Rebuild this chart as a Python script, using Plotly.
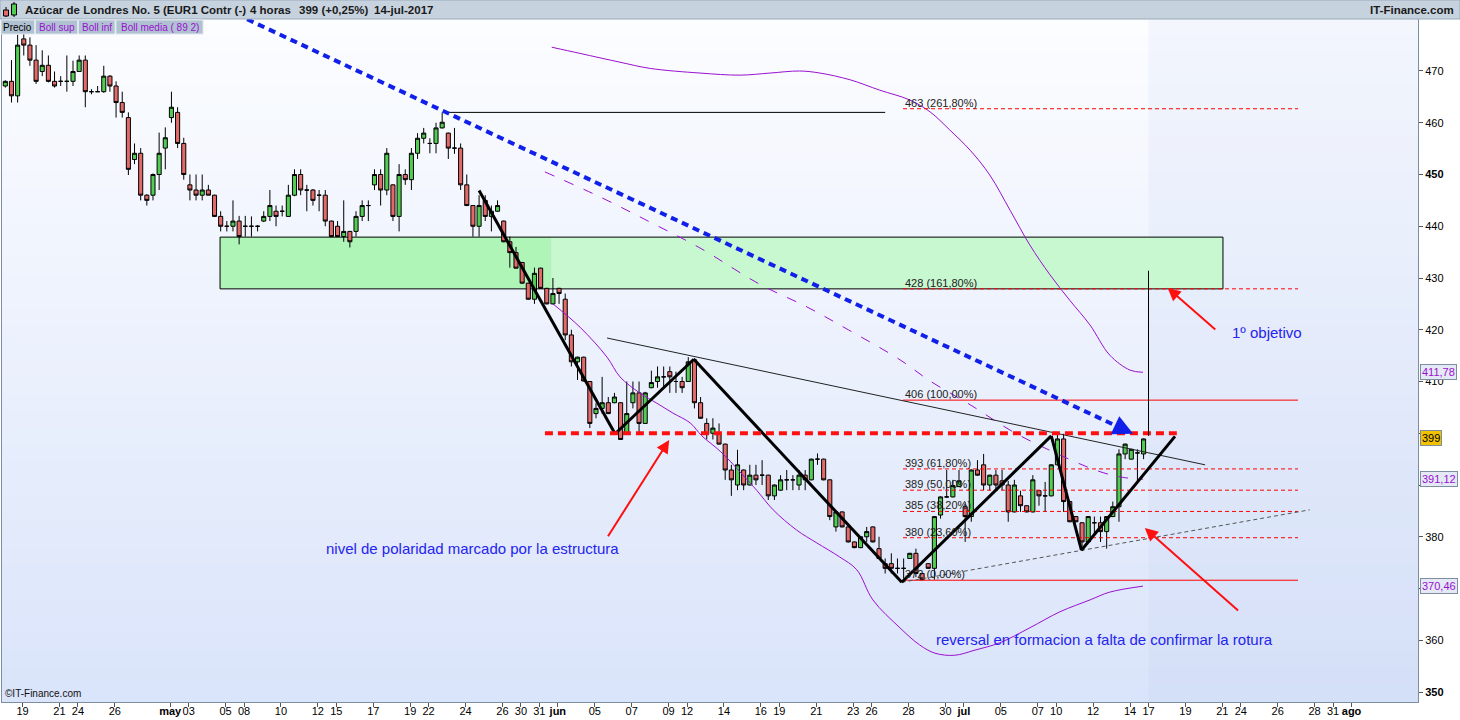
import plotly.graph_objects as go

# ---------------- data ----------------
bar_index = list(range(186))

opens = [467.1, 468.0, 465.2, 476.2, 475.0, 472.1, 469.9, 471.1, 468.0, 468.0,
         468.0, 468.0, 469.9, 472.1, 466.0, 466.0, 466.0, 469.0, 467.1, 463.9,
         461.0, 452.9, 454.1, 446.0, 446.0, 450.0, 455.1, 461.0, 462.0, 456.0,
         448.0, 447.0, 446.0, 447.0, 446.0, 441.9, 440.0, 440.0, 441.0, 440.0,
         440.0, 440.0, 441.0, 441.9, 442.9, 442.9, 441.9, 446.0, 450.0, 447.0,
         447.0, 446.0, 446.0, 441.0, 440.0, 438.0, 439.0, 439.0, 441.9, 444.0,
         448.0, 450.0, 447.0, 448.0, 441.9, 450.0, 449.0, 454.1, 457.0, 456.0,
         456.0, 459.0, 458.0, 455.1, 455.1, 448.0, 444.0, 440.0, 445.0, 441.9,
         442.9, 441.0, 437.0, 434.9, 433.0, 429.0, 425.9, 431.9, 428.0, 425.0,
         428.0, 425.9, 419.0, 413.8, 414.7, 410.0, 403.8, 404.8, 405.9, 405.9,
         405.9, 400.0, 405.9, 407.8, 401.9, 408.8, 410.0, 410.9, 411.9, 410.0,
         410.0, 410.0, 414.2, 405.9, 401.9, 400.0, 400.0, 397.9, 392.9, 390.0,
         392.9, 390.0, 391.9, 391.9, 391.9, 387.9, 389.0, 391.0, 391.0, 390.0,
         391.9, 391.0, 395.0, 395.0, 391.0, 381.9, 384.8, 381.9, 379.0, 377.9,
         380.0, 381.9, 377.7, 374.8, 374.8, 373.9, 373.9, 375.8, 376.8, 372.9,
         374.8, 373.9, 384.2, 387.7, 387.7, 389.7, 385.8, 383.9, 392.9, 393.9,
         390.0, 391.9, 390.8, 390.0, 384.8, 387.9, 386.0, 384.8, 388.9, 387.9,
         387.9, 393.9, 398.9, 386.8, 383.9, 382.7, 379.0, 382.7, 382.7, 381.0,
         383.9, 385.8, 396.0, 395.0, 396.2, 396.0]

highs = [468.2, 472.1, 477.0, 477.5, 476.5, 475.0, 474.0, 473.0, 469.9, 469.0,
         473.0, 472.0, 473.0, 473.0, 466.5, 467.1, 471.0, 469.2, 468.0, 466.0,
         462.0, 456.0, 455.1, 446.2, 450.2, 458.1, 459.1, 466.0, 463.0, 457.1,
         450.0, 450.0, 450.0, 448.0, 446.1, 442.9, 441.0, 445.0, 442.0, 442.0,
         441.9, 440.2, 442.9, 447.0, 444.0, 444.0, 448.0, 451.0, 451.0, 448.0,
         447.2, 447.0, 447.0, 441.1, 441.0, 445.0, 439.1, 442.9, 445.0, 445.0,
         451.0, 451.0, 455.1, 448.1, 452.0, 451.0, 455.1, 458.0, 459.0, 457.0,
         460.0, 462.0, 458.1, 459.0, 456.0, 450.0, 444.1, 446.0, 446.0, 444.0,
         445.0, 441.1, 438.0, 436.0, 433.1, 429.1, 432.0, 432.0, 428.1, 430.0,
         428.1, 427.0, 420.0, 414.8, 414.8, 410.1, 405.8, 410.9, 407.0, 407.8,
         406.0, 410.0, 410.0, 410.0, 408.0, 412.1, 412.9, 412.9, 412.9, 411.9,
         410.9, 414.7, 414.5, 407.0, 402.9, 402.9, 401.9, 398.0, 393.9, 396.8,
         393.0, 393.9, 393.9, 394.8, 392.0, 390.1, 391.9, 392.9, 391.9, 392.9,
         392.9, 395.1, 396.1, 395.1, 391.1, 384.9, 384.9, 382.0, 379.1, 380.1,
         381.9, 382.0, 380.0, 375.8, 376.8, 375.8, 375.8, 376.9, 377.7, 373.0,
         374.9, 384.0, 387.8, 392.9, 391.0, 392.9, 386.7, 393.0, 394.8, 396.0,
         392.0, 392.9, 392.9, 390.8, 391.0, 388.9, 386.1, 391.9, 389.0, 390.6,
         394.0, 399.9, 399.9, 386.9, 384.0, 382.8, 384.0, 383.9, 383.9, 384.0,
         386.8, 396.9, 398.0, 397.0, 396.9, 399.0]

lows = [466.8, 463.9, 463.9, 473.0, 471.0, 467.5, 469.0, 467.8, 466.8, 467.1,
        466.0, 467.1, 469.8, 463.0, 465.5, 466.0, 465.8, 466.0, 461.0, 461.0,
        449.9, 452.0, 445.0, 444.0, 445.0, 447.0, 451.0, 460.0, 455.1, 449.0,
        445.0, 445.0, 445.0, 446.0, 441.8, 439.0, 439.0, 439.0, 436.5, 438.0,
        438.0, 439.0, 440.8, 441.0, 440.0, 441.9, 441.8, 445.8, 446.0, 442.9,
        444.0, 442.9, 440.0, 437.9, 437.9, 437.0, 435.9, 438.0, 441.0, 441.0,
        447.0, 444.0, 446.0, 441.0, 439.0, 448.0, 447.0, 453.0, 456.0, 454.1,
        454.1, 458.9, 453.0, 454.0, 447.0, 443.9, 438.0, 438.0, 441.0, 439.0,
        442.8, 436.9, 432.0, 431.8, 428.9, 425.8, 425.0, 427.9, 424.9, 424.9,
        425.0, 418.0, 412.9, 410.3, 410.0, 401.0, 402.9, 403.8, 403.7, 405.8,
        398.7, 399.9, 404.8, 400.0, 401.8, 408.7, 408.8, 408.8, 407.8, 407.8,
        407.8, 409.9, 404.8, 402.8, 398.8, 398.8, 397.8, 391.0, 387.9, 389.0,
        389.0, 389.9, 390.0, 390.0, 387.1, 387.1, 388.9, 389.0, 389.0, 389.0,
        389.0, 390.9, 393.9, 390.9, 383.2, 381.0, 381.8, 378.9, 377.8, 377.8,
        379.0, 378.9, 375.7, 372.9, 372.9, 372.9, 371.9, 375.7, 372.2, 371.6,
        373.8, 371.7, 383.5, 387.5, 387.6, 389.6, 379.0, 382.9, 391.8, 389.0,
        389.0, 389.0, 389.0, 382.9, 384.7, 384.8, 384.7, 384.7, 386.0, 384.8,
        387.8, 393.8, 384.8, 382.8, 382.8, 378.0, 378.9, 380.7, 379.0, 377.7,
        383.8, 382.9, 395.0, 394.9, 390.6, 395.0]

closes = [468.0, 465.2, 475.0, 475.0, 472.1, 468.0, 471.1, 468.0, 467.1, 468.0,
          468.0, 469.9, 472.1, 466.0, 466.0, 466.0, 469.0, 467.1, 463.9, 462.0,
          451.0, 454.1, 446.0, 445.0, 450.0, 454.1, 457.1, 463.0, 456.0, 450.0,
          447.0, 446.0, 447.0, 446.0, 441.9, 440.0, 440.0, 441.0, 438.0, 440.0,
          440.0, 440.0, 441.9, 444.0, 441.9, 442.9, 446.0, 450.0, 447.0, 447.0,
          445.0, 446.0, 441.0, 438.0, 438.0, 439.0, 437.0, 441.9, 444.0, 444.0,
          450.0, 447.0, 454.1, 441.9, 450.0, 449.0, 454.1, 457.0, 458.0, 456.0,
          459.0, 460.1, 455.1, 455.1, 448.0, 444.0, 440.0, 444.0, 441.9, 442.9,
          444.0, 437.0, 434.9, 431.9, 429.0, 425.9, 430.9, 428.0, 425.0, 427.0,
          427.0, 419.0, 413.8, 414.7, 410.1, 401.9, 404.8, 405.9, 403.8, 407.0,
          398.8, 403.8, 407.8, 401.9, 407.8, 409.8, 410.9, 410.9, 410.9, 410.0,
          408.8, 413.8, 405.9, 402.9, 399.8, 401.0, 397.9, 392.9, 391.0, 393.9,
          390.0, 391.9, 391.0, 391.9, 387.9, 390.0, 391.0, 391.0, 391.0, 391.9,
          391.0, 395.0, 395.0, 391.0, 383.9, 384.8, 381.9, 379.0, 377.9, 380.0,
          381.0, 379.0, 375.8, 373.9, 373.9, 373.9, 373.9, 376.8, 372.9, 371.7,
          373.9, 383.9, 387.7, 387.7, 389.9, 390.8, 383.9, 392.9, 391.9, 390.0,
          391.9, 390.0, 390.0, 384.8, 390.0, 386.0, 384.8, 391.0, 387.9, 387.9,
          393.9, 398.9, 386.8, 382.9, 382.9, 379.0, 383.9, 382.7, 381.0, 383.9,
          385.8, 396.0, 397.9, 396.9, 396.2, 398.9]

# trading-day index of each labelled day (0 = 19 Apr 2017) and its label
tick_days = [0, 2, 3, 5, 8, 9, 11, 12, 14, 16, 17, 19, 21, 22, 24, 26, 27, 28, 29,
             31, 33, 35, 36, 38, 40, 41, 43, 45, 46, 48, 50, 51, 53, 55, 56, 58,
             60, 61, 63, 65, 66, 68, 70, 71, 72]
tick_labels = ["19", "21", "24", "26", "<b>may</b>", "03", "05", "08", "10", "12",
               "15", "17", "19", "22", "24", "26", "30", "31", "<b>jun</b>", "05",
               "07", "09", "12", "14", "16", "19", "21", "23", "26", "28", "30",
               "<b>jul</b>", "05", "07", "10", "12", "14", "17", "19", "21", "24",
               "26", "28", "31", "<b>ago</b>"]
bars_per_day = 3
day0_bar = 2.8

# price axis labels (those hidden behind the value boxes are left blank)
y_ticks = [350, 360, 370, 380, 390, 400, 410, 420, 430, 440, 450, 460, 470]
y_tick_labels = ["<b>350</b>", "360", "", "380", "", "", "410", "420", "430", "440",
                 "<b>450</b>", "460", "470"]

# Bollinger (89, 2)
boll_sup_x = [88.8, 93.4, 99.9, 104.8, 112.9, 119.4, 124.3, 129.1, 132.4, 137.3, 142.1,
              147.0, 150.3, 153.5, 156.8, 160.0, 163.3, 166.5, 169.8, 173.0, 176.3,
              179.5, 182.8, 184.9]
boll_sup_y = [474.6, 473.4, 471.7, 470.5, 469.6, 469.2, 469.6, 470.0, 469.6, 468.3, 466.3,
              464.4, 462.1, 458.6, 454.7, 449.9, 443.1, 436.4, 430.6, 425.7, 420.9,
              415.1, 412.2, 411.78]
boll_med_x = [87.7, 96.6, 104.8, 112.9, 122.6, 130.3, 137.0, 145.4, 150.3, 157.1, 163.6,
              170.3, 177.6, 181.5, 184.9]
boll_med_y = [450.5, 445.7, 440.8, 435.8, 428.8, 424.4, 420.0, 414.2, 410.1, 405.3, 400.4,
              396.4, 392.7, 391.5, 391.12]
boll_inf_x = [89.0, 93.4, 97.8, 99.9, 103.1, 105.9, 108.5, 111.3, 113.2, 116.3, 120.2,
              122.1, 124.8, 128.6, 131.9, 135.6, 138.4, 141.0, 145.4, 148.6, 151.1,
              154.3, 157.6, 161.6, 166.5, 171.4, 176.3, 179.5, 184.9]
boll_inf_y = [425.0, 420.5, 414.7, 410.9, 407.8, 405.8, 403.9, 402.0, 399.5, 396.4, 391.5,
              389.0, 385.2, 381.3, 378.8, 376.1, 373.6, 367.8, 362.4, 359.1, 357.5,
              357.1, 358.1, 359.5, 362.4, 365.5, 367.8, 369.3, 370.46]

last_price = 399
last_boll = {"sup": 411.78, "media": 391.12, "inf": 370.46}

# Fibonacci from the 372 low to the 406 high
fib_low, fib_high = 371.6, 406.4
fib_ratios = [0.0, 0.236, 0.382, 0.5, 0.618, 1.0, 1.618, 2.618]
fib_texts = ["372 (0,00%)", "380 (23,60%)", "385 (38,20%)", "389 (50,00%)",
             "393 (61,80%)", "406 (100,00%)", "428 (161,80%)", "463 (261,80%)"]
fib_bars = [145.9, 210.1]

# drawn objects (bar position, price)
zone_bars = [34.9, 88.8, 197.9]
zone_prices = [427.9, 437.9]
polarity_bars, polarity_price = [87.7, 190.4], 400.0
blue_trend_bars, blue_trend_prices = [39.3, 183.3], [480.0, 399.9]
resist_bars, resist_prices = [97.8, 195.0], [418.4, 393.9]
zigzag_bars = [77.0, 99.1, 111.9, 145.7, 170.0, 174.9, 190.1]
zigzag_prices = [446.9, 399.9, 414.3, 371.2, 399.5, 377.4, 399.4]
support_bars, support_prices = [145.7, 212.0], [371.2, 385.2]
high_line_bars, high_line_price = [71.7, 143.0], 462.0
target_bar, target_prices = 185.8, [399.5, 431.4]

# ---------------- figure ----------------
W, H = 1460, 720
ML, MR, MT, MB = 2, 42, 18, 18
PW, PH = W - ML - MR, H - MT - MB
FONT = "Liberation Sans, Arial, sans-serif"


def px_x(px):
    return (px - ML) / PW


def px_y(py):
    return (H - MB - py) / PH


fig = go.Figure()
shapes = []
annotations = []

# background gradient of the plot area
n_bands = 40
top_c, bot_c = (252, 253, 255), (218, 228, 250)
for i in range(n_bands):
    t = (i + 0.5) / n_bands
    c = tuple(round(top_c[k] + (bot_c[k] - top_c[k]) * t) for k in range(3))
    shapes.append(dict(type="rect", xref="paper", yref="paper", x0=0, x1=1,
                       y0=1 - (i + 1) / n_bands, y1=1 - i / n_bands + 0.001,
                       fillcolor="rgb(%d,%d,%d)" % c, line=dict(width=0), layer="below"))
# future area tint
shapes.append(dict(type="rect", xref="x", yref="paper", x0=bar_index[-1] + 0.8, x1=229.6,
                   y0=0, y1=1, fillcolor="rgba(170,190,240,0.10)", line=dict(width=0),
                   layer="below"))

# green zone
shapes.append(dict(type="rect", xref="x", yref="y", x0=zone_bars[0], x1=zone_bars[1],
                   y0=zone_prices[0], y1=zone_prices[1], fillcolor="#b0f5b8",
                   line=dict(width=0), layer="below"))
shapes.append(dict(type="rect", xref="x", yref="y", x0=zone_bars[1], x1=zone_bars[2],
                   y0=zone_prices[0], y1=zone_prices[1], fillcolor="#c8f8d0",
                   line=dict(width=0), layer="below"))
shapes.append(dict(type="rect", xref="x", yref="y", x0=zone_bars[0], x1=zone_bars[2],
                   y0=zone_prices[0], y1=zone_prices[1], fillcolor="rgba(0,0,0,0)",
                   line=dict(color="black", width=1), layer="below"))

# candles
fig.add_trace(go.Candlestick(
    x=bar_index, open=opens, high=highs, low=lows, close=closes,
    increasing=dict(fillcolor="#52cc52", line=dict(color="black", width=1)),
    decreasing=dict(fillcolor="#e46a6a", line=dict(color="black", width=1)),
    whiskerwidth=0, showlegend=False, hoverinfo="skip"))

purple = "#9a10d0"
fig.add_trace(go.Scatter(x=boll_sup_x, y=boll_sup_y, mode="lines", line_shape="spline",
                         line=dict(color=purple, width=1), showlegend=False, hoverinfo="skip"))
fig.add_trace(go.Scatter(x=boll_med_x, y=boll_med_y, mode="lines", line_shape="spline",
                         line=dict(color=purple, width=1, dash="10px,11px"),
                         showlegend=False, hoverinfo="skip"))
fig.add_trace(go.Scatter(x=boll_inf_x, y=boll_inf_y, mode="lines", line_shape="spline",
                         line=dict(color=purple, width=1), showlegend=False, hoverinfo="skip"))

# fibonacci lines + labels
fib_vals = [fib_low + r * (fib_high - fib_low) for r in fib_ratios]
for r, v, txt in zip(fib_ratios, fib_vals, fib_texts):
    solid = r in (0.0, 1.0)
    shapes.append(dict(type="line", xref="x", yref="y", x0=fib_bars[0], x1=fib_bars[1],
                       y0=v, y1=v,
                       line=dict(color="#ff0000", width=1,
                                 dash="solid" if solid else "4px,3px")))
    annotations.append(dict(x=fib_bars[0], y=v + 1.15, xref="x", yref="y", text=txt,
                            showarrow=False, xanchor="left", yanchor="middle",
                            font=dict(family=FONT, size=11, color="#222")))

# black high line
shapes.append(dict(type="line", xref="x", yref="y", x0=high_line_bars[0], x1=high_line_bars[1],
                   y0=high_line_price, y1=high_line_price, line=dict(color="black", width=1)))
# resistance thin line
shapes.append(dict(type="line", xref="x", yref="y", x0=resist_bars[0], x1=resist_bars[1],
                   y0=resist_prices[0], y1=resist_prices[1], line=dict(color="#222", width=1)))
# support dashed gray
shapes.append(dict(type="line", xref="x", yref="y", x0=support_bars[0], x1=support_bars[1],
                   y0=support_prices[0], y1=support_prices[1],
                   line=dict(color="#555", width=1, dash="4px,3px")))
# zigzag
for i in range(len(zigzag_bars) - 1):
    shapes.append(dict(type="line", xref="x", yref="y", x0=zigzag_bars[i], x1=zigzag_bars[i + 1],
                       y0=zigzag_prices[i], y1=zigzag_prices[i + 1],
                       line=dict(color="black", width=3)))
# polarity red dashed
shapes.append(dict(type="line", xref="x", yref="y", x0=polarity_bars[0], x1=polarity_bars[1],
                   y0=polarity_price, y1=polarity_price,
                   line=dict(color="#ff1010", width=4, dash="8px,5px")))
# blue dotted trend (arrow head added below)
slope = (blue_trend_prices[1] - blue_trend_prices[0]) / (blue_trend_bars[1] - blue_trend_bars[0])
tail_bar = blue_trend_bars[1] - 2.6
tail_price = blue_trend_prices[1] - slope * 2.6
shapes.append(dict(type="line", xref="x", yref="y", x0=blue_trend_bars[0], x1=tail_bar,
                   y0=blue_trend_prices[0], y1=tail_price,
                   line=dict(color="#1020e8", width=4, dash="7px,5px")))
annotations.append(dict(x=blue_trend_bars[1], y=blue_trend_prices[1], ax=tail_bar, ay=tail_price,
                        xref="x", yref="y", axref="x", ayref="y", text="", showarrow=True,
                        arrowhead=2, arrowsize=1.0, arrowwidth=4, arrowcolor="#1020e8",
                        standoff=0))
# target vertical line
shapes.append(dict(type="line", xref="x", yref="y", x0=target_bar, x1=target_bar,
                   y0=target_prices[0], y1=target_prices[1], line=dict(color="black", width=1)))

# red arrows (head, tail)
red_arrows = [((107.9, 398.7), (97.8, 379.8)),
              ((188.9, 428.1), (196.9, 419.8)),
              ((185.2, 381.7), (200.6, 365.5))]
for (hx, hy), (tx, ty) in red_arrows:
    annotations.append(dict(x=hx, y=hy, ax=tx, ay=ty, xref="x", yref="y", axref="x",
                            ayref="y", text="", showarrow=True, arrowhead=2, arrowsize=1.3,
                            arrowwidth=2, arrowcolor="#ff1010", standoff=0))

blue_txt = "#2424ee"
for txt, bx, py in [("1º objetivo", 205.0, 419.4),
                    ("nivel de polaridad marcado por la estructura", 76.0, 377.8),
                    ("reversal en formacion a falta de confirmar la rotura", 178.7, 360.2)]:
    annotations.append(dict(x=bx, y=py, xref="x", yref="y", text=txt, showarrow=False,
                            xanchor="center", yanchor="middle",
                            font=dict(family=FONT, size=15, color=blue_txt)))

# right-hand value boxes
for val, txt, bg, col in [(last_boll["sup"], "411,78", "#e4e9f5", purple),
                          (last_price, "399", "#f2c200", "black"),
                          (last_boll["media"], "391,12", "#e4e9f5", purple),
                          (last_boll["inf"], "370,46", "#e4e9f5", purple)]:
    annotations.append(dict(x=px_x(1420), y=val, xref="paper", yref="y", text=txt,
                            showarrow=False, xanchor="left", yanchor="middle",
                            bgcolor=bg, bordercolor="#7d8ea0", borderwidth=1, borderpad=1,
                            font=dict(family=FONT, size=11, color=col)))

# header bar
shapes.append(dict(type="rect", xref="paper", yref="paper", x0=px_x(0), x1=px_x(W),
                   y0=px_y(19), y1=px_y(0), fillcolor="#c6d2de",
                   line=dict(color="#9aaabb", width=1)))
# small candle icon
shapes.append(dict(type="line", xref="paper", yref="paper", x0=px_x(6), x1=px_x(6),
                   y0=px_y(17), y1=px_y(7), line=dict(color="black", width=1)))
shapes.append(dict(type="rect", xref="paper", yref="paper", x0=px_x(3.5), x1=px_x(8.5),
                   y0=px_y(16), y1=px_y(10), fillcolor="#e46a6a", line=dict(color="black", width=1)))
shapes.append(dict(type="line", xref="paper", yref="paper", x0=px_x(14), x1=px_x(14),
                   y0=px_y(17), y1=px_y(2), line=dict(color="black", width=1)))
shapes.append(dict(type="rect", xref="paper", yref="paper", x0=px_x(11.5), x1=px_x(16.5),
                   y0=px_y(15), y1=px_y(4), fillcolor="#52cc52", line=dict(color="black", width=1)))

for txt, x in [("Azúcar de Londres No. 5 (EUR1 Contr (-)", 22.5), ("4 horas", 248),
               ("399 (+0,25%)", 297), ("14-jul-2017", 372)]:
    annotations.append(dict(x=px_x(x), y=px_y(9.5), xref="paper", yref="paper", text="<b>%s</b>" % txt,
                            showarrow=False, xanchor="left", yanchor="middle",
                            font=dict(family=FONT, size=11.5, color="#1a1a1a")))
annotations.append(dict(x=px_x(1456), y=px_y(9.5), xref="paper", yref="paper",
                        text="<b>IT-Finance.com</b>", showarrow=False, xanchor="right",
                        yanchor="middle", font=dict(family=FONT, size=11.5, color="#1a1a1a")))

# legend boxes
for txt, x0, x1, col in [("Precio", 1, 34.5, "black"), ("Boll sup", 35.5, 77.5, purple),
                         ("Boll inf", 78.5, 115, purple), ("Boll media ( 89 2)", 116, 203, purple)]:
    shapes.append(dict(type="rect", xref="paper", yref="paper", x0=px_x(x0), x1=px_x(x1),
                       y0=px_y(34), y1=px_y(20), fillcolor="#b0c2d2",
                       line=dict(color="#dfe7ef", width=1)))
    annotations.append(dict(x=px_x((x0 + x1) / 2), y=px_y(27), xref="paper", yref="paper",
                            text=txt, showarrow=False, xanchor="center", yanchor="middle",
                            font=dict(family=FONT, size=10, color=col)))

annotations.append(dict(x=px_x(3), y=px_y(693), xref="paper", yref="paper",
                        text="©IT-Finance.com", showarrow=False, xanchor="left",
                        yanchor="middle", font=dict(family=FONT, size=10, color="#111")))

tickvals_x = [day0_bar + bars_per_day * d for d in tick_days]

fig.update_layout(
    width=W, height=H, margin=dict(l=ML, r=MR, t=MT, b=MB, autoexpand=False),
    paper_bgcolor="white", plot_bgcolor="#eef2fc",
    shapes=shapes, annotations=annotations, showlegend=False,
    boxgap=0.05,
    xaxis=dict(range=[-0.54, 229.6], tickmode="array", tickvals=tickvals_x,
               ticktext=tick_labels, ticks="outside", ticklen=4, tickcolor="#555",
               tickangle=0, automargin=False, ticklabelstandoff=-5,
               showgrid=False, zeroline=False, showline=True, linecolor="#7d8ea0",
               mirror=True, rangeslider=dict(visible=False),
               tickfont=dict(family=FONT, size=11, color="black")),
    yaxis=dict(range=[348.07, 480.24], side="right", tickmode="array", tickvals=y_ticks,
               ticktext=y_tick_labels, ticks="outside", ticklen=4, tickcolor="#555",
               automargin=False,
               showgrid=False, zeroline=False, showline=True, linecolor="#7d8ea0",
               mirror=True, tickfont=dict(family=FONT, size=11, color="black")),
)

fig.write_html("out.html", config={"displayModeBar": False},
               post_script="document.body.style.margin='0';")
